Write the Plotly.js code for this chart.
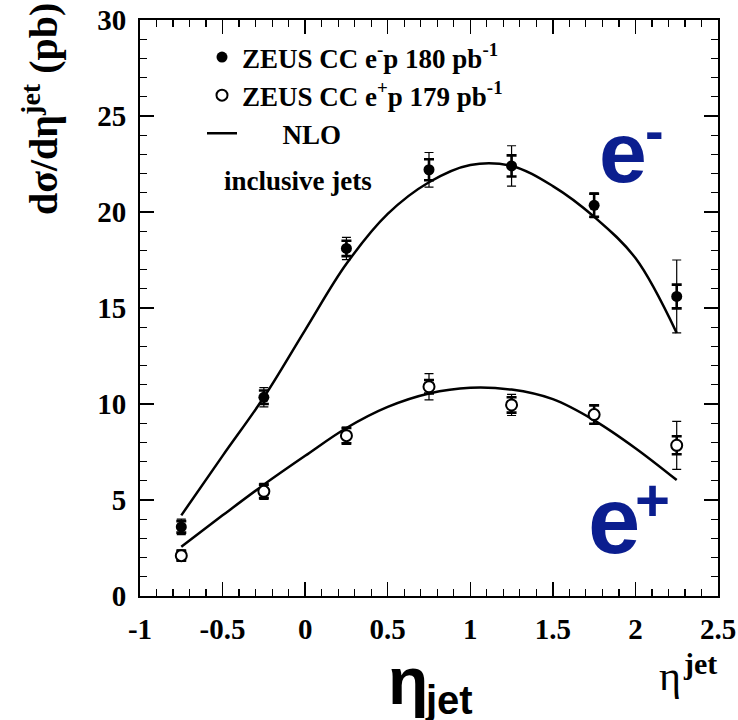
<!DOCTYPE html>
<html>
<head>
<meta charset="utf-8">
<script src="https://cdn.plot.ly/plotly-3.0.1.min.js"></script>
<style>
  html, body { margin: 0; padding: 0; background: #ffffff; }
  #chart { width: 738px; height: 720px; }
</style>
</head>
<body>
<div id="chart"></div>
<script>
// Jet pseudorapidity bins (bin centres)
const eta = [-0.75, -0.25, 0.25, 0.75, 1.25, 1.75, 2.25];

// ZEUS CC e-p, 180 pb^-1
const emY    = [3.6, 10.35, 18.1, 22.2, 22.4, 20.35, 15.6];
const emStat = [0.3, 0.35, 0.4, 0.55, 0.55, 0.6, 0.62];
const emTot  = [0.4, 0.5, 0.58, 0.9, 1.05, 0.65, 1.9];

// ZEUS CC e+p, 179 pb^-1
const epY    = [2.1, 5.45, 8.35, 10.9, 9.95, 9.45, 7.85];
const epStat = [0.25, 0.35, 0.4, 0.35, 0.4, 0.48, 0.47];
const epTot  = [0.3, 0.42, 0.45, 0.68, 0.55, 0.5, 1.25];

// NLO predictions
const nloEta = [-0.75, -0.5, -0.25, 0, 0.25, 0.5, 0.75, 1.0, 1.25, 1.5, 1.75, 2.0, 2.25];
const nloEm  = [4.2, 7.3, 10.35, 13.85, 17.3, 19.9, 21.55, 22.45, 22.4, 21.35, 19.75, 17.6, 13.7];
const nloEp  = [2.57, 4.2, 5.8, 7.3, 8.75, 9.85, 10.55, 10.85, 10.75, 10.25, 9.15, 7.7, 6.04];

// Axis tick labels
const xTickVals = [-1, -0.5, 0, 0.5, 1, 1.5, 2, 2.5];
const xTickText = ['-1', '-0.5', '0', '0.5', '1', '1.5', '2', '2.5'];
const yTickVals = [0, 5, 10, 15, 20, 25, 30];
const yTickText = ['0', '5', '10', '15', '20', '25', '30'];

const serif = 'Liberation Serif, Times New Roman, serif';
const narrow = 'Liberation Sans Narrow, Arial Narrow, Liberation Sans, Arial, sans-serif';
const blue = '#0b1e8f';

// paper coordinates from pixel positions in the 738x720 canvas
const L = 140, R = 718, T = 20, B = 596;
const px = v => (v - L) / (R - L);
const py = v => (B - v) / (B - T);

const nloLine = { color: 'black', width: 2.5, shape: 'spline', smoothing: 1 };

const traces = [
  { x: nloEta, y: nloEm, mode: 'lines', name: '\u00a0\u00a0\u00a0\u00a0\u00a0\u00a0NLO',
    line: nloLine, legendrank: 3, hoverinfo: 'skip' },
  { x: nloEta, y: nloEp, mode: 'lines', showlegend: false, line: nloLine, hoverinfo: 'skip' },

  { x: eta, y: emY, mode: 'markers', showlegend: false, marker: { size: 2, color: 'black' },
    error_y: { type: 'data', array: emTot, color: 'black', thickness: 1.2, width: 4.5 }, hoverinfo: 'skip' },
  { x: eta, y: emY, mode: 'markers', name: 'ZEUS CC e<sup>-</sup>p 180 pb<sup>-1</sup>', legendrank: 1,
    marker: { size: 11, color: 'black' },
    error_y: { type: 'data', array: emStat, color: 'black', thickness: 2.6, width: 5 } },

  { x: eta, y: epY, mode: 'markers', showlegend: false, marker: { size: 2, color: 'black' },
    error_y: { type: 'data', array: epTot, color: 'black', thickness: 1.2, width: 4.5 }, hoverinfo: 'skip' },
  { x: eta, y: epY, mode: 'markers', name: 'ZEUS CC e<sup>+</sup>p 179 pb<sup>-1</sup>', legendrank: 2,
    marker: { size: 11, color: 'white', line: { color: 'black', width: 2 } },
    error_y: { type: 'data', array: epStat, color: 'black', thickness: 2.6, width: 5 } }
];

const axisCommon = {
  showline: true, linecolor: 'black', linewidth: 2,
  ticks: 'inside', ticklen: 14, tickwidth: 1.3, tickcolor: 'black',
  mirror: 'ticks', showgrid: false, zeroline: false,
  tickfont: { family: serif, size: 29, color: 'black', weight: 'bold' }
};

const layout = {
  width: 738, height: 720,
  margin: { l: L, r: 738 - R, t: T, b: 720 - B },
  paper_bgcolor: 'white', plot_bgcolor: 'white',
  showlegend: true,
  legend: {
    x: px(202), y: py(33), xanchor: 'left', yanchor: 'top',
    bgcolor: 'rgba(0,0,0,0)', borderwidth: 0,
    font: { family: serif, size: 27, color: 'black', weight: 'bold' },
    traceorder: 'normal'
  },
  xaxis: Object.assign({}, axisCommon, {
    range: [-1, 2.5], tickmode: 'array', tickvals: xTickVals, ticktext: xTickText,
    ticklabelstandoff: 6,
    minor: { tickmode: 'linear', tick0: -1, dtick: 0.1, ticks: 'inside', ticklen: 7, tickwidth: 1.2, tickcolor: 'black' }
  }),
  yaxis: Object.assign({}, axisCommon, {
    range: [0, 30], tickmode: 'array', tickvals: yTickVals, ticktext: yTickText,
    ticklabelstandoff: 6,
    minor: { tickmode: 'linear', tick0: 0, dtick: 1, ticks: 'inside', ticklen: 7, tickwidth: 1.2, tickcolor: 'black' }
  }),
  annotations: [
    { text: 'inclusive jets', xref: 'paper', yref: 'paper', x: px(222), y: py(181),
      xanchor: 'left', yanchor: 'middle', showarrow: false,
      font: { family: serif, size: 27, color: 'black', weight: 'bold' } },
    { text: 'd\u03c3/d\u03b7<sup>jet</sup> (pb)', xref: 'paper', yref: 'paper', x: px(41), y: py(109),
      xanchor: 'center', yanchor: 'middle', textangle: -90, showarrow: false,
      font: { family: serif, size: 40, color: 'black', weight: 'bold' } },

    { text: 'e', xref: 'paper', yref: 'paper', x: px(623), y: py(152),
      xanchor: 'center', yanchor: 'middle', showarrow: false,
      font: { family: narrow, size: 86, color: blue, weight: 'bold' } },
    { text: '-', xref: 'paper', yref: 'paper', x: px(654), y: py(130),
      xanchor: 'center', yanchor: 'middle', showarrow: false,
      font: { family: narrow, size: 56, color: blue, weight: 'bold' } },
    { text: 'e', xref: 'paper', yref: 'paper', x: px(614), y: py(520),
      xanchor: 'center', yanchor: 'middle', showarrow: false,
      font: { family: narrow, size: 94, color: blue, weight: 'bold' } },
    { text: '+', xref: 'paper', yref: 'paper', x: px(652), y: py(500),
      xanchor: 'center', yanchor: 'middle', showarrow: false,
      font: { family: narrow, size: 60, color: blue, weight: 'bold' } },

    { text: '\u03b7', xref: 'paper', yref: 'paper', x: px(669.5), y: py(701),
      xanchor: 'center', yanchor: 'bottom', showarrow: false,
      font: { family: serif, size: 42, color: 'black' } },
    { text: 'jet', xref: 'paper', yref: 'paper', x: px(699.5), y: py(682),
      xanchor: 'center', yanchor: 'bottom', showarrow: false,
      font: { family: serif, size: 30, color: 'black', weight: 'bold' } },

    { text: '\u03b7', xref: 'paper', yref: 'paper', x: px(408), y: py(720),
      xanchor: 'center', yanchor: 'bottom', showarrow: false,
      font: { family: narrow, size: 66, color: 'black', weight: 'bold' } },
    { text: 'jet', xref: 'paper', yref: 'paper', x: px(449), y: py(724),
      xanchor: 'center', yanchor: 'bottom', showarrow: false,
      font: { family: narrow, size: 40, color: 'black', weight: 'bold' } }
  ]
};

Plotly.newPlot('chart', traces, layout, { staticPlot: true, displayModeBar: false });
</script>
</body>
</html>
